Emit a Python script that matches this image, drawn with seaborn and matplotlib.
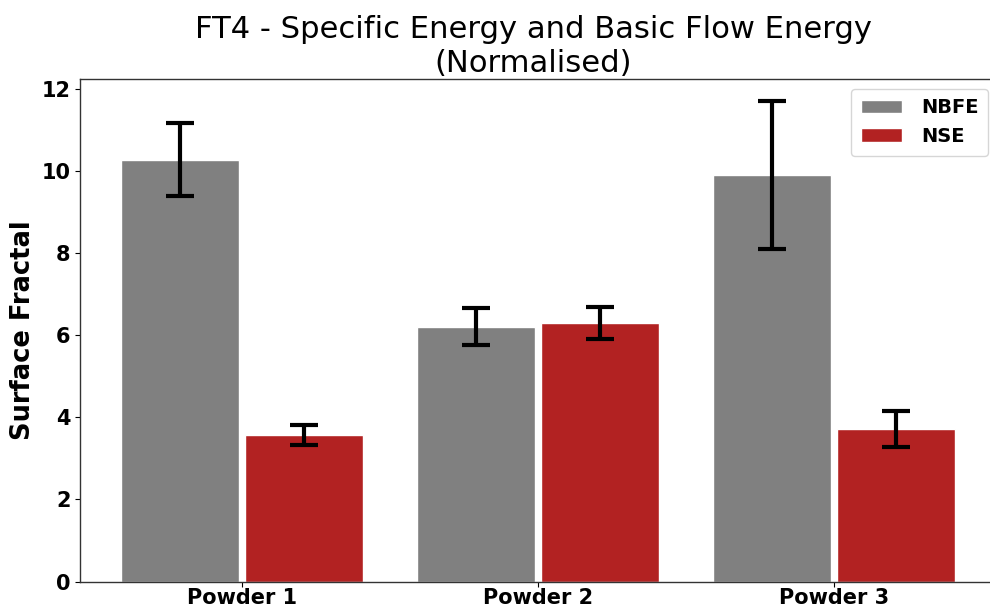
import matplotlib
matplotlib.use("Agg")
import matplotlib.pyplot as plt
import seaborn as sns
import pandas as pd
import numpy as np

powders = ["Powder 1", "Powder 2", "Powder 3"]
series = ["NBFE", "NSE"]
nbfe = [10.28, 6.21, 9.90]
nbfe_err = [0.89, 0.45, 1.80]
nse = [3.57, 6.31, 3.72]
nse_err = [0.25, 0.39, 0.43]
colors = ["#808080", "#b22222"]

df = pd.DataFrame({
    "Powder": powders * 2,
    "Series": [series[0]] * 3 + [series[1]] * 3,
    "Value": nbfe + nse,
    "Err": nbfe_err + nse_err,
})

sns.set_style("white")
plt.rcParams["font.family"] = ["DejaVu Sans"]
plt.rcParams["text.color"] = "black"
plt.rcParams["axes.labelcolor"] = "black"
plt.rcParams["xtick.color"] = "black"
plt.rcParams["ytick.color"] = "black"

fig, ax = plt.subplots(figsize=(9.9, 6.07), dpi=100)
sns.barplot(data=df, x="Powder", y="Value", hue="Series", palette=colors,
            errorbar=None, width=0.84, gap=0.05, ax=ax, saturation=1)

# error bars at bar centres
for cont, errs in zip(ax.containers, [nbfe_err, nse_err]):
    xs = [p.get_x() + p.get_width() / 2 for p in cont.patches]
    ys = [p.get_height() for p in cont.patches]
    ax.errorbar(xs, ys, yerr=errs, fmt="none", ecolor="black",
                elinewidth=3, capsize=10, capthick=3)

ax.set_xlim(-0.547, 2.554)
ax.set_ylim(0, 12.25)
ax.set_yticks([0, 2, 4, 6, 8, 10, 12])
ax.set_title("FT4 - Specific Energy and Basic Flow Energy\n(Normalised)",
             fontsize=22.1, color="black", pad=5, x=0.4935)
ax.set_xlabel("")
ax.set_ylabel("Surface Fractal", fontsize=18.5, fontweight="bold", color="black")
for lab in ax.get_xticklabels() + ax.get_yticklabels():
    lab.set_fontweight("bold")
    lab.set_fontsize(15)
ax.tick_params(axis="both", which="both", length=3.5, left=True, bottom=True,
               colors="black")
ax.tick_params(axis="x", pad=1.5)
for s in ax.spines.values():
    s.set_visible(True)
    s.set_color("#333333")
    s.set_linewidth(1.0)

leg = ax.legend(loc="upper right", prop={"weight": "bold", "size": 14},
                handlelength=2.1, handleheight=0.7, handletextpad=1.0,
                borderpad=0.5, title=None)
for t in leg.get_texts():
    t.set_color("black")

fig.subplots_adjust(left=0.081, right=1.008, top=0.87, bottom=0.042)
fig.savefig("out.png", dpi=100, facecolor="white")
